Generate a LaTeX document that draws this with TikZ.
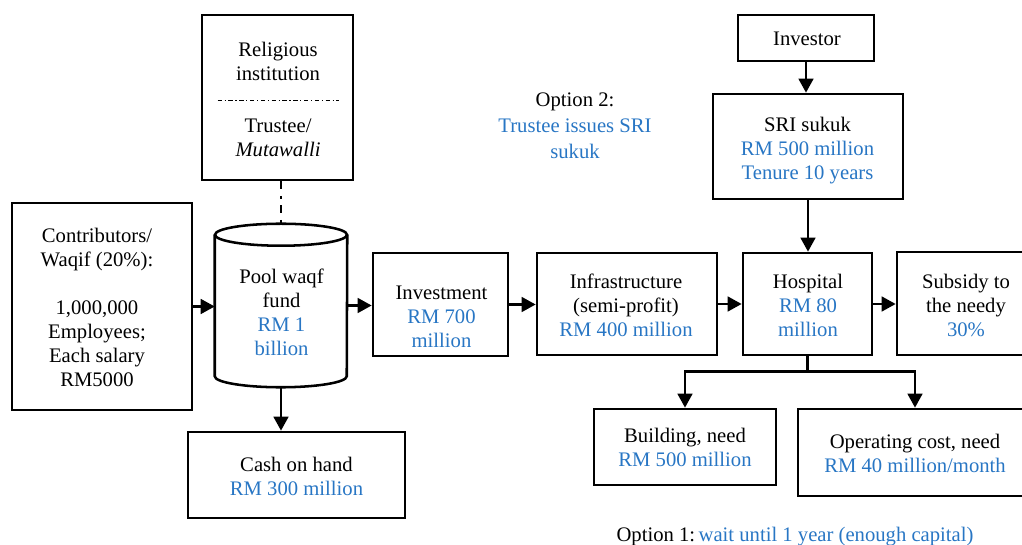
\documentclass[tikz,border=0pt]{standalone}
\usepackage{fontspec}
\setmainfont{Liberation Serif}
\usetikzlibrary{arrows.meta,calc}
\definecolor{amount}{RGB}{40,118,196}
\newcommand\amt[1]{\textcolor{amount}{#1}}
\begin{document}
\begin{tikzpicture}[x=0.75pt,y=-0.75pt,
  font=\fontsize{15.5}{18}\selectfont,
  box/.style={draw, line width=2pt, inner sep=0pt},
  txt/.style={align=center, inner sep=0pt,
    execute at begin node=\strut, execute at end node=\strut},
  arr/.style={line width=1.9pt, -{Triangle[length=10.5pt,width=11pt]}},
  link/.style={line width=1.9pt},
]
\useasboundingbox (0,0) rectangle (1022,545);

% ---- trustee box with its two parts ----
\node[box, minimum width=113.25pt, minimum height=123.75pt] (relig) at (277.5,97.5) {};
\node[txt] (reltop) at (278,65.2) {Religious\\institution};
\node[txt] (relbot) at (278,141) {Trustee/\\\textit{Mutawalli}};
\draw[line width=0.7pt, dash pattern=on 3.2pt off 2pt on 0.9pt off 2pt]
  ($(relig.west)+(17,2.5)$) -- ($(relig.east)+(-15,2.5)$);

% ---- contributors ----
\node[box, minimum width=135pt, minimum height=155.25pt] (contrib) at (102,306.5) {};
\node[txt] (contribt) at (97,311)
  {Contributors/\\Waqif (20\%):\\[18pt]1,000,000\\Employees;\\Each salary\\RM5000};

% ---- pool waqf fund (cylinder) ----
\node[minimum width=99pt, minimum height=122.25pt, inner sep=0pt] (pool) at (281,305.5) {};
\draw[link, fill=white] ($(pool.north west)+(0,11)$) -- ($(pool.south west)+(0,-11)$)
  arc[start angle=180, end angle=0, x radius=66, y radius=11]
  -- ($(pool.north east)+(0,11)$);
\draw[link] ($(pool.north)+(0,11)$) ellipse[x radius=66, y radius=11];
\node[txt] (poolt) at (281.5,315.5) {Pool waqf\\fund\\\amt{RM 1}\\\amt{billion}};

% ---- cash on hand ----
\node[box, minimum width=162.75pt, minimum height=64.5pt] (cash) at (296.5,475) {};
\node[txt] (casht) at (296.5,479.7) {Cash on hand\\\amt{RM 300 million}};

% ---- investment chain ----
\node[box, minimum width=101.25pt, minimum height=77.25pt] (invest) at (440.5,304.5) {};
\node[txt] (investt) at (441.5,320.7) {Investment\\\amt{RM 700}\\\amt{million}};

\node[box, minimum width=135pt, minimum height=76.5pt] (infra) at (627,304) {};
\node[txt] (infrat) at (626,308.7) {Infrastructure\\(semi-profit)\\\amt{RM 400 million}};

\node[box, minimum width=96.75pt, minimum height=76.5pt] (hosp) at (807.5,304) {};
\node[txt] (hospt) at (808,308.7) {Hospital\\\amt{RM 80}\\\amt{million}};

\node[box, minimum width=103.5pt, minimum height=77.25pt] (subsidy) at (966,303.5) {};
\node[txt] (subsidyt) at (966,309) {Subsidy to\\the needy\\\amt{30\%}};

% ---- sukuk branch ----
\node[box, minimum width=102pt, minimum height=34.5pt] (investor) at (806,38) {};
\node[txt] (investort) at (807,41.2) {Investor};

\node[box, minimum width=142.5pt, minimum height=78.75pt] (sri) at (808,146.5) {};
\node[txt] (srit) at (807.5,151.5) {SRI sukuk\\\amt{RM 500 million}\\\amt{Tenure 10 years}};

% ---- hospital needs ----
\node[box, minimum width=136.5pt, minimum height=57pt] (build) at (685,447) {};
\node[txt] (buildt) at (685,451.2) {Building, need\\\amt{RM 500 million}};

\node[box, minimum width=175.5pt, minimum height=65.25pt] (oper) at (915,452.5) {};
\node[txt] (opert) at (915,457.2) {Operating cost, need\\\amt{RM 40 million/month}};

% ---- options ----
\node[txt, font=\fontsize{15.5}{19.5}\selectfont] (opt2) at (575,130)
  {Option 2:\\\amt{Trustee issues SRI}\\\amt{sukuk}};
\node[txt] (opt1) at (795,537) {Option 1:\,\amt{wait until 1 year (enough capital)}};

% ---- connectors ----
\draw[link, dash pattern=on 6pt off 5pt on 2pt off 5pt]
  (pool.north |- relig.south) -- (pool.north);
\draw[arr] (contrib.east) -- (contrib.east -| pool.west);
\draw[arr] (pool.east) -- (pool.east -| invest.west);
\draw[arr] (invest.east) -- (invest.east -| infra.west);
\draw[arr] (infra.east) -- (hosp.west);
\draw[arr] (hosp.east) -- (hosp.east -| subsidy.west);
\draw[arr] (pool.south) -- (pool.south |- cash.north);
\draw[arr] (investor.south) -- (investor.south |- sri.north);
\draw[arr] (sri.south) -- (sri.south |- hosp.north);
\coordinate (split) at ($(hosp.south)+(0,15)$);
\draw[link] (hosp.south) -- (split);
\draw[arr] (split) -| (build.north);
\draw[arr] (split) -| (oper.north);
\end{tikzpicture}
\end{document}
